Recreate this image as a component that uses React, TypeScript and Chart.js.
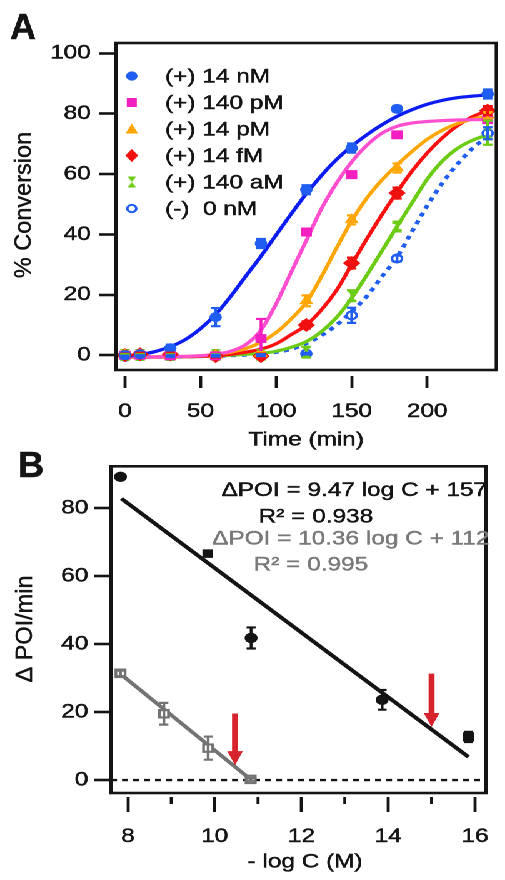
import React, { useEffect, useRef } from 'react';
import { Chart, registerables } from 'chart.js';

Chart.register(...registerables);

const FONT = '"Liberation Sans", Arial, Helvetica, sans-serif';
const TEXT = '#141414';
const STROKE_W = 0.45;

// ---------------- Panel A data ----------------
const timeTicks = [0, 50, 100, 150, 200];
const conversionTicks = [0, 20, 40, 60, 80, 100];
const sampleTimes = [0, 10, 30, 60, 90, 120, 150, 180, 240];
const fitTimes = [0, 10, 20, 30, 40, 50, 60, 70, 80, 90, 100, 110, 120, 130, 140, 150, 160, 170, 180, 190, 200, 210, 220, 230, 240];

const seriesNames = ['(+) 14 nM', '(+) 140 pM', '(+) 14 pM', '(+) 14 fM', '(+) 140 aM', '(-)  0 nM'];

const pts14nM = [0, 0.3, 2.3, 12.6, 37, 54.8, 68.6, 81.6, 86.5];
const err14nM = [0.5, 0.5, 1.2, 3, 1.5, 1.5, 1.5, 1, 1.5];
const pts140pM = [0, 0, -0.2, -0.2, 5.5, 40.8, 59.8, 73, 78];
const err140pM = [0.3, 0.3, 0.3, 0.3, 6.5, 1, 1, 1, 1];
const pts14pM = [0, 0, -0.2, 0, 0.5, 18, 44.8, 62, 79.5];
const err14pM = [0.3, 0.3, 0.3, 0.3, 0.5, 1.8, 1.5, 1.5, 1];
const pts14fM = [0, 0.3, 0.3, -0.3, -0.3, 10, 30.5, 53.7, 81];
const err14fM = [0.5, 0.5, 0.5, 0.5, 0.8, 1.2, 1.8, 1.8, 1.5];
const pts140aM = [0, 0, 0, 0, 0, 1, 19.7, 42.6, 73.7];
const err140aM = [0.3, 0.3, 0.3, 0.3, 0.3, 1.8, 1.8, 1.2, 4];
const pts0nM = [-0.5, -0.3, -0.3, -0.2, 0, 0.5, 13.2, 32, 73.5];
const err0nM = [0.3, 0.3, 0.3, 0.3, 0.3, 0.3, 2.5, 1, 2];

const fit14nM = [-0.5, 0.2, 1.2, 2.8, 5.2, 8.8, 13.5, 19.5, 26.2, 32.8, 39.8, 46.8, 53.5, 59.5, 64.8, 69.2, 73.0, 76.3, 79.1, 81.3, 83.1, 84.4, 85.3, 85.8, 86.2];
const fit140pM = [-0.6, -0.6, -0.6, -0.5, -0.4, -0.2, 0.3, 1.3, 3.5, 8.3, 17.0, 27.5, 38.0, 48.5, 57.0, 64.0, 69.5, 73.5, 75.8, 76.9, 77.4, 77.7, 77.9, 78.0, 78.0];
const fit14pM = [-0.6, -0.6, -0.6, -0.5, -0.4, -0.2, 0.3, 1.0, 2.2, 4.3, 7.5, 12.0, 17.5, 26.0, 35.5, 44.5, 52.0, 58.0, 63.0, 67.5, 71.5, 74.5, 76.7, 78.2, 79.2];
const fit14fM = [-0.6, -0.6, -0.6, -0.6, -0.5, -0.4, -0.2, 0.3, 1.0, 2.0, 3.8, 6.8, 10.0, 15.0, 21.5, 30.0, 38.5, 46.5, 54.0, 61.0, 67.0, 72.0, 76.0, 79.0, 81.0];
const fit140aM = [-0.6, -0.6, -0.6, -0.6, -0.5, -0.4, -0.2, 0.0, 0.3, 0.6, 1.3, 2.6, 4.5, 7.8, 12.5, 18.9, 26.5, 34.5, 42.6, 50.5, 58.3, 64.3, 68.5, 71.2, 73.0];
const fit0nM = [-0.6, -0.6, -0.6, -0.6, -0.5, -0.4, -0.3, -0.1, 0.1, 0.4, 1.0, 2.0, 3.9, 6.5, 10.0, 14.4, 19.5, 26.0, 32.5, 41.0, 49.5, 57.0, 63.3, 68.5, 72.5];

const ptsAll = [pts14nM, pts140pM, pts14pM, pts14fM, pts140aM, pts0nM];
const errAll = [err14nM, err140pM, err14pM, err14fM, err140aM, err0nM];
const fitAll = [fit14nM, fit140pM, fit14pM, fit14fM, fit140aM, fit0nM];

// ---------------- Panel B data ----------------
const logCTicks = [8, 10, 12, 14, 16];
const logCMinorTicks = [9, 11, 13, 15];
const poiTicks = [0, 20, 40, 60, 80];
const plusX = [7.83, 9.84, 10.84, 13.86, 15.85];
const plusY = [89.2, 66.6, 41.8, 23.6, 12.7];
const plusErr = [0.5, 0.6, 3.1, 2.9, 1.5];
const minusX = [7.83, 8.83, 9.85, 10.83];
const minusY = [31.4, 19.5, 9.4, 0.2];
const minusErr = [0.8, 3.2, 3.4, 0.4];
const fitPlusX = [7.85, 15.85];
const fitPlusY = [82.8, 6.8];
const fitMinusX = [7.83, 10.83];
const fitMinusY = [31.2, 0.2];
const arrowX = [10.47, 15.0];
const arrowTop = [19.6, 31.3];
const arrowTip = [4.4, 15.6];
const zeroLineY = 0;
const eqPlus = 'ΔPOI = 9.47 log C + 157';
const r2Plus = 'R² = 0.938';
const eqMinus = 'ΔPOI = 10.36 log C + 112';
const r2Minus = 'R² = 0.995';

// axis ranges
const xMinA = -5.9, xMaxA = 245.7, yMinA = -6.9, yMaxA = 103.4;
const xMinB = 7.612, xMaxB = 16.254, yMinB = -4.98, yMaxB = 92.3;

// ---------------- styles ----------------
function makeHourglass(color: string) {
  const c = document.createElement('canvas');
  const w = 8, h = 12;
  c.width = w; c.height = h;
  const g = c.getContext('2d')!;
  g.fillStyle = color;
  g.beginPath();
  g.moveTo(0, 0); g.lineTo(w, 0); g.lineTo(w / 2, h / 2); g.lineTo(w, h); g.lineTo(0, h); g.lineTo(w / 2, h / 2);
  g.closePath(); g.fill();
  return c;
}

type St = { line: string; mark: string; shape: any; r: number; open?: boolean; dash?: number[] };

function stylesA(): St[] {
  return [
    { line: '#0b1cf5', mark: '#1f5ef0', shape: 'circle', r: 5 },
    { line: '#ff4fd0', mark: '#f21fc1', shape: 'rect', r: 6.3 },
    { line: '#ffa600', mark: '#ffa600', shape: 'triangle', r: 6.5 },
    { line: '#ff1010', mark: '#f01010', shape: 'rectRot', r: 7 },
    { line: '#6ccc14', mark: '#6ccc14', shape: makeHourglass('#6ccc14'), r: 5 },
    { line: '#1f5ef0', mark: '#1f5ef0', shape: 'circle', r: 4, open: true, dash: [4, 4.5] },
  ];
}

function drawLegendMarker(ctx: CanvasRenderingContext2D, s: St, x: number, y: number) {
  ctx.save();
  ctx.fillStyle = s.mark;
  ctx.strokeStyle = s.mark;
  ctx.beginPath();
  if (s.open) {
    ctx.lineWidth = 2;
    ctx.arc(x, y, 3.6, 0, Math.PI * 2);
    ctx.fillStyle = '#fff';
    ctx.fill();
    ctx.stroke();
  } else if (s.shape === 'circle') {
    ctx.arc(x, y, 4.6, 0, Math.PI * 2); ctx.fill();
  } else if (s.shape === 'rect') {
    ctx.rect(x - 4, y - 4.5, 8, 9); ctx.fill();
  } else if (s.shape === 'triangle') {
    ctx.moveTo(x, y - 5.5); ctx.lineTo(x + 5, y + 4.5); ctx.lineTo(x - 5, y + 4.5); ctx.closePath(); ctx.fill();
  } else if (s.shape === 'rectRot') {
    ctx.moveTo(x, y - 6.5); ctx.lineTo(x + 5.2, y); ctx.lineTo(x, y + 6.5); ctx.lineTo(x - 5.2, y); ctx.closePath(); ctx.fill();
  } else {
    ctx.drawImage(s.shape, x - 3.5, y - 5.5, 7, 11);
  }
  ctx.restore();
}

const errorBarPlugin = {
  id: 'errorBars',
  afterDatasetsDraw(chart: any) {
    const { ctx } = chart;
    const xs = chart.scales.x, ys = chart.scales.y;
    chart.data.datasets.forEach((ds: any) => {
      if (!ds.errors) return;
      ctx.save();
      ctx.strokeStyle = ds.errorColor;
      ctx.lineWidth = 2.2;
      const cap = ds.errorCap || 3.8;
      ds.data.forEach((p: any, j: number) => {
        const e = ds.errors[j];
        if (!e) return;
        const x = xs.getPixelForValue(p.x);
        const y1 = ys.getPixelForValue(p.y + e);
        const y2 = ys.getPixelForValue(p.y - e);
        ctx.beginPath();
        ctx.moveTo(x, y1); ctx.lineTo(x, y2);
        ctx.moveTo(x - cap, y1); ctx.lineTo(x + cap, y1);
        ctx.moveTo(x - cap, y2); ctx.lineTo(x + cap, y2);
        ctx.stroke();
      });
      ctx.restore();
    });
  },
};

function text(ctx: CanvasRenderingContext2D, t: string, x: number, y: number) {
  ctx.lineWidth = STROKE_W;
  ctx.strokeStyle = ctx.fillStyle as string;
  ctx.fillText(t, x, y);
  ctx.strokeText(t, x, y);
}

function drawLetter(ctx: CanvasRenderingContext2D, t: string, x: number, y: number) {
  ctx.save();
  ctx.translate(x, y);
  ctx.scale(0.8, 1);
  ctx.font = `bold 36px ${FONT}`;
  ctx.fillStyle = TEXT;
  ctx.textAlign = 'left';
  ctx.textBaseline = 'alphabetic';
  text(ctx, t, 0, 0);
  ctx.restore();
}

function drawYTitle(ctx: CanvasRenderingContext2D, t: string, x: number, y: number) {
  ctx.save();
  ctx.translate(x, y);
  ctx.scale(0.8, 1);
  ctx.rotate(-Math.PI / 2);
  ctx.font = `23.5px ${FONT}`;
  ctx.fillStyle = TEXT;
  ctx.textAlign = 'center';
  ctx.textBaseline = 'middle';
  text(ctx, t, 0, 0);
  ctx.restore();
}

function axisCommon(tickLength: number, tickWidth: number, padding: number) {
  return {
    grid: { display: true, drawOnChartArea: false, drawTicks: true, tickLength, tickWidth, tickColor: TEXT, color: TEXT },
    border: { display: false },
    ticks: {
      padding, font: { family: FONT, size: 19.5 }, color: TEXT, autoSkip: false, maxRotation: 0,
      textStrokeColor: TEXT, textStrokeWidth: STROKE_W,
      callback: (v: any) => String(v),
    },
    title: { display: false },
  };
}

function configA(): any {
  const st = stylesA();
  const datasets: any[] = [];
  ptsAll.forEach((pts, i) => {
    const s = st[i];
    datasets.push({
      label: seriesNames[i],
      data: sampleTimes.map((t, j) => ({ x: t, y: pts[j] })),
      showLine: false,
      pointStyle: s.shape,
      pointRadius: s.r,
      pointBackgroundColor: s.open ? '#ffffff' : s.mark,
      pointBorderColor: s.mark,
      pointBorderWidth: s.open ? 2 : 0,
      errors: errAll[i],
      errorColor: s.mark,
      order: i === 5 ? 1 : 0,
    });
  });
  fitAll.forEach((fit, i) => {
    const s = st[i];
    datasets.push({
      label: seriesNames[i] + ' fit',
      data: fitTimes.map((t, j) => ({ x: t, y: fit[j] })),
      borderColor: s.line,
      borderWidth: s.dash ? 3.6 : 3.2,
      borderDash: s.dash || [],
      pointRadius: 0,
      fill: false,
      cubicInterpolationMode: 'monotone',
      order: 2,
    });
  });

  const panelPlugin = {
    id: 'panelA',
    afterDraw(chart: any) {
      const { ctx, chartArea: ca } = chart;
      ctx.save();
      ctx.strokeStyle = TEXT;
      ctx.lineWidth = 2.6;
      ctx.strokeRect(ca.left, ca.top, ca.right - ca.left, ca.bottom - 6 - ca.top);
      ctx.font = `19.5px ${FONT}`;
      ctx.textAlign = 'left';
      ctx.textBaseline = 'middle';
      seriesNames.forEach((name, i) => {
        const y = 76 + 26.5 * i;
        drawLegendMarker(ctx, st[i], 105.4, y);
        ctx.fillStyle = TEXT;
        text(ctx, name, 132, y + 1);
      });
      ctx.textAlign = 'center';
      ctx.fillStyle = TEXT;
      text(ctx, 'Time (min)', (ca.left + ca.right) / 2, 440);
      ctx.restore();
      drawYTitle(ctx, '% Conversion', 19.2, 205);
      drawLetter(ctx, 'A', 8, 39);
    },
  };

  return {
    type: 'line',
    data: { datasets },
    options: {
      animation: false,
      responsive: false,
      maintainAspectRatio: false,
      devicePixelRatio: 2,
      layout: { padding: { left: 0, right: 3.2, top: 43, bottom: 0 } },
      plugins: { legend: { display: false }, tooltip: { enabled: false } },
      scales: {
        x: {
          type: 'linear', min: xMinA, max: xMaxA,
          afterFit: (s: any) => { s.height = 84; },
          afterBuildTicks: (s: any) => { s.ticks = timeTicks.map((v) => ({ value: v })); },
          ...axisCommon(12, 2.4, 12),
        },
        y: {
          type: 'linear', min: yMinA, max: yMaxA,
          afterFit: (s: any) => { s.width = 92.8; },
          afterBuildTicks: (s: any) => { s.ticks = conversionTicks.map((v) => ({ value: v })); },
          ...axisCommon(13.4, 2.6, 6.8),
        },
      },
    },
    plugins: [errorBarPlugin, panelPlugin],
  };
}

function configB(): any {
  const gray = '#737373';
  const datasets: any[] = [
    {
      label: '(+)',
      data: plusX.map((x, i) => ({ x, y: plusY[i] })),
      showLine: false,
      pointStyle: ['circle', 'rect', 'circle', 'circle', 'rect'],
      pointRadius: [5.2, 6, 5.2, 5.2, 6.5],
      pointBackgroundColor: TEXT,
      pointBorderColor: TEXT,
      pointBorderWidth: 0,
      errors: plusErr,
      errorColor: TEXT,
      errorCap: 3.6,
      order: 0,
    },
    {
      label: '(-)',
      data: minusX.map((x, i) => ({ x, y: minusY[i] })),
      showLine: false,
      pointStyle: 'rect',
      pointRadius: 5.2,
      pointBackgroundColor: '#ffffff',
      pointBorderColor: gray,
      pointBorderWidth: 2.2,
      errors: minusErr,
      errorColor: gray,
      errorCap: 3.6,
      order: 0,
    },
    {
      label: 'fit (+)',
      data: fitPlusX.map((x, i) => ({ x, y: fitPlusY[i] })),
      borderColor: TEXT,
      borderWidth: 3.6,
      pointRadius: 0,
      order: 1,
    },
    {
      label: 'fit (-)',
      data: fitMinusX.map((x, i) => ({ x, y: fitMinusY[i] })),
      borderColor: gray,
      borderWidth: 3.4,
      pointRadius: 0,
      order: 1,
    },
    {
      label: 'zero',
      data: [{ x: xMinB, y: zeroLineY }, { x: xMaxB, y: zeroLineY }],
      borderColor: TEXT,
      borderWidth: 2.4,
      borderDash: [4.8, 4],
      pointRadius: 0,
      order: 2,
    },
  ];

  const panelPlugin = {
    id: 'panelB',
    afterDraw(chart: any) {
      const { ctx, chartArea: ca } = chart;
      const xs = chart.scales.x, ys = chart.scales.y;
      ctx.save();
      ctx.strokeStyle = TEXT;
      ctx.lineWidth = 2.6;
      ctx.strokeRect(ca.left, ca.top, ca.right - ca.left, ca.bottom - 4 - ca.top);
      ctx.lineWidth = 2.4;
      logCMinorTicks.forEach((v) => {
        const x = xs.getPixelForValue(v);
        ctx.beginPath();
        ctx.moveTo(x, ca.bottom);
        ctx.lineTo(x, ca.bottom + 7);
        ctx.stroke();
      });
      ctx.fillStyle = '#d7242c';
      arrowX.forEach((v, i) => {
        const x = xs.getPixelForValue(v);
        const yt = ys.getPixelForValue(arrowTop[i]);
        const yp = ys.getPixelForValue(arrowTip[i]);
        const headLen = 14, headHalf = 6.3, shaftHalf = 2.4;
        ctx.beginPath();
        ctx.moveTo(x - shaftHalf, yt);
        ctx.lineTo(x + shaftHalf, yt);
        ctx.lineTo(x + shaftHalf, yp - headLen);
        ctx.lineTo(x + headHalf, yp - headLen);
        ctx.lineTo(x, yp);
        ctx.lineTo(x - headHalf, yp - headLen);
        ctx.lineTo(x - shaftHalf, yp - headLen);
        ctx.closePath();
        ctx.fill();
      });
      ctx.font = `19.5px ${FONT}`;
      ctx.textBaseline = 'middle';
      ctx.fillStyle = TEXT;
      ctx.textAlign = 'right';
      text(ctx, eqPlus, 389.6, 40.5);
      ctx.textAlign = 'center';
      text(ctx, r2Plus, 252.7, 67.3);
      ctx.fillStyle = '#7a7a7a';
      ctx.textAlign = 'right';
      text(ctx, eqMinus, 391.5, 89);
      ctx.textAlign = 'center';
      text(ctx, r2Minus, 248.7, 115);
      ctx.fillStyle = TEXT;
      text(ctx, '- log C (M)', 244, 412);
      ctx.restore();
      drawYTitle(ctx, 'Δ POI/min', 20.4, 179);
      drawLetter(ctx, 'B', 14.4, 27);
    },
  };

  return {
    type: 'line',
    data: { datasets },
    options: {
      animation: false,
      responsive: false,
      maintainAspectRatio: false,
      devicePixelRatio: 2,
      layout: { padding: { left: 0, right: 5.6, top: 15, bottom: 0 } },
      plugins: { legend: { display: false }, tooltip: { enabled: false } },
      scales: {
        x: {
          type: 'linear', min: xMinB, max: xMaxB,
          afterFit: (s: any) => { s.height = 83; },
          afterBuildTicks: (s: any) => { s.ticks = logCTicks.map((v) => ({ value: v })); },
          ...axisCommon(15, 2.4, 13),
        },
        y: {
          type: 'linear', min: yMinB, max: yMaxB,
          afterFit: (s: any) => { s.width = 88.8; },
          afterBuildTicks: (s: any) => { s.ticks = poiTicks.map((v) => ({ value: v })); },
          ...axisCommon(13.6, 2.6, 4.6),
        },
      },
    },
    plugins: [errorBarPlugin, panelPlugin],
  };
}

export default function App() {
  const refA = useRef<HTMLCanvasElement>(null);
  const refB = useRef<HTMLCanvasElement>(null);
  useEffect(() => {
    const a = new Chart(refA.current!, configA());
    const b = new Chart(refB.current!, configB());
    return () => { a.destroy(); b.destroy(); };
  }, []);
  return (
    <div style={{ position: 'absolute', left: 0, top: 0, width: 404, height: 880, transform: 'scaleX(1.25)', transformOrigin: '0 0', background: '#ffffff' }}>
      <canvas ref={refA} width={404} height={460} style={{ position: 'absolute', left: 0, top: 0, width: 404, height: 460, display: 'block' }} />
      <canvas ref={refB} width={404} height={430} style={{ position: 'absolute', left: 0, top: 450, width: 404, height: 430, display: 'block' }} />
    </div>
  );
}
